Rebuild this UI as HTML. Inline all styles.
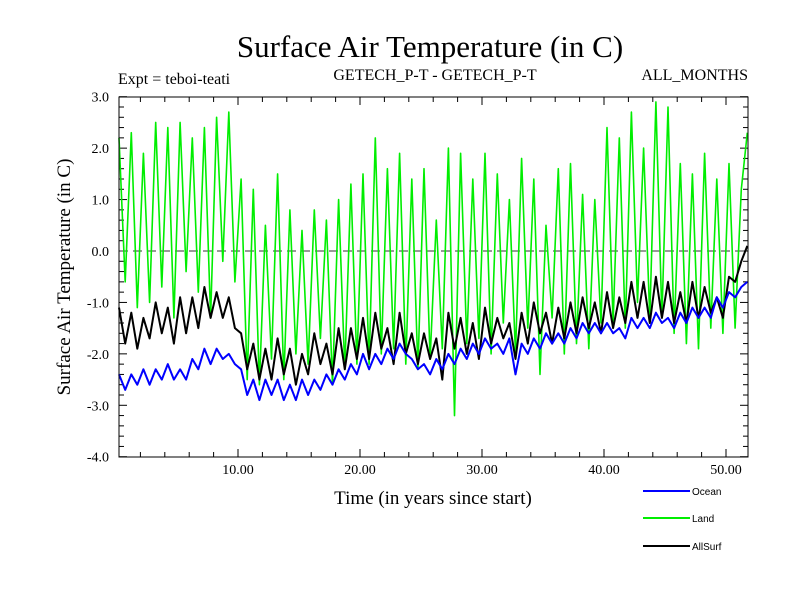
<!DOCTYPE html>
<html><head><meta charset="utf-8"><style>
body{margin:0;background:#fff}
svg text{font-family:"Liberation Serif",serif}
</style></head><body>
<svg id="c" width="800" height="600" xmlns="http://www.w3.org/2000/svg">
<text x="430" y="57" font-size="31" text-anchor="middle">Surface Air Temperature (in C)</text>
<text x="118" y="84" font-size="16">Expt = teboi-teati</text>
<text x="435" y="80" font-size="16" text-anchor="middle">GETECH_P-T - GETECH_P-T</text>
<text x="748" y="80" font-size="16" text-anchor="end">ALL_MONTHS</text>
<text transform="translate(70,277) rotate(-90)" font-size="19" text-anchor="middle">Surface Air Temperature (in C)</text>
<text x="433" y="504" font-size="19" text-anchor="middle">Time (in years since start)</text>
<g id="axes"></g>
<g id="series"></g>
<rect x="119" y="97" width="629" height="360" fill="none" stroke="#000" stroke-width="1"/>
<g>
<line x1="643" y1="491" x2="690" y2="491" stroke="#0000ff" stroke-width="2"/>
<text x="692" y="495" font-size="10" style="font-family:'Liberation Sans',sans-serif">Ocean</text>
<line x1="643" y1="518" x2="690" y2="518" stroke="#00ee00" stroke-width="2"/>
<text x="692" y="522" font-size="10" style="font-family:'Liberation Sans',sans-serif">Land</text>
<line x1="643" y1="546" x2="690" y2="546" stroke="#000" stroke-width="2"/>
<text x="692" y="550" font-size="10" style="font-family:'Liberation Sans',sans-serif">AllSurf</text>
</g>
</svg>
<script>
const yTicks=[3,2,1,0,-1,-2,-3,-4];
const yTickLabels=["3.0","2.0","1.0","0.0","-1.0","-2.0","-3.0","-4.0"];
const xTicks=[10,20,30,40,50];
const xTickLabels=["10.00","20.00","30.00","40.00","50.00"];
const tStart=0.25, tStep=0.5;
const land=[2.2,-0.6,2.3,-1.1,1.9,-1.0,2.5,-0.7,2.4,-1.3,2.5,-0.4,2.2,-0.8,2.4,-1.3,2.6,-0.2,2.7,-0.6,
1.4,-2.5,1.2,-2.6,0.5,-2.1,1.5,-2.5,0.8,-2.0,0.4,-2.2,0.8,-1.7,0.6,-2.6,1.0,-2.3,1.3,-2.2,
1.5,-2.2,2.2,-2.0,1.6,-1.9,1.9,-2.2,1.4,-2.3,1.6,-2.1,0.6,-1.9,2.0,-3.2,1.9,-1.8,1.4,-1.7,
1.9,-2.0,1.5,-1.4,1.0,-2.0,1.8,-1.5,1.4,-2.4,0.5,-1.3,1.6,-2.0,1.7,-1.8,1.1,-1.9,1.0,-1.4,
2.4,-1.4,2.2,-1.5,2.7,-1.0,2.0,-1.3,2.9,-1.3,2.8,-1.6,1.7,-1.8,1.5,-1.9,1.9,-1.5,1.4,-1.6,
1.7,-1.5,1.2,2.3];
const ocean=[-2.4,-2.7,-2.4,-2.6,-2.3,-2.6,-2.3,-2.5,-2.2,-2.5,-2.3,-2.5,-2.1,-2.3,-1.9,-2.2,-1.9,-2.1,-2.0,-2.2,
-2.3,-2.8,-2.5,-2.9,-2.5,-2.8,-2.5,-2.9,-2.6,-2.9,-2.5,-2.8,-2.5,-2.7,-2.4,-2.6,-2.3,-2.5,-2.2,-2.4,
-2.0,-2.3,-2.0,-2.2,-1.9,-2.1,-1.8,-2.0,-2.1,-2.3,-2.2,-2.4,-2.1,-2.3,-2.0,-2.2,-1.9,-2.1,-1.8,-2.0,
-1.7,-1.9,-1.8,-2.0,-1.7,-2.4,-1.8,-2.0,-1.7,-1.9,-1.6,-1.8,-1.6,-1.8,-1.5,-1.7,-1.4,-1.6,-1.4,-1.6,
-1.4,-1.6,-1.5,-1.7,-1.3,-1.5,-1.3,-1.5,-1.2,-1.4,-1.3,-1.5,-1.2,-1.4,-1.1,-1.3,-1.1,-1.3,-0.9,-1.1,
-0.8,-0.9,-0.7,-0.6];
const allsurf=[-1.1,-1.8,-1.2,-1.9,-1.3,-1.7,-1.0,-1.6,-1.1,-1.8,-0.9,-1.6,-0.9,-1.5,-0.7,-1.3,-0.8,-1.3,-0.9,-1.5,
-1.6,-2.3,-1.8,-2.5,-1.9,-2.5,-1.7,-2.4,-1.9,-2.6,-2.0,-2.4,-1.6,-2.2,-1.8,-2.4,-1.5,-2.3,-1.5,-2.1,
-1.3,-2.1,-1.2,-1.9,-1.5,-2.2,-1.2,-2.0,-1.6,-2.2,-1.6,-2.1,-1.7,-2.5,-1.2,-1.9,-1.3,-2.0,-1.4,-2.1,
-1.1,-1.8,-1.3,-1.7,-1.4,-2.1,-1.2,-1.8,-1.0,-1.6,-1.2,-1.8,-1.1,-1.7,-1.0,-1.6,-0.9,-1.5,-1.0,-1.6,
-0.8,-1.5,-0.9,-1.4,-0.6,-1.3,-0.6,-1.4,-0.5,-1.3,-0.6,-1.4,-0.8,-1.4,-0.6,-1.3,-0.7,-1.2,-0.9,-1.3,
-0.5,-0.6,-0.2,0.1];
const NS="http://www.w3.org/2000/svg";
function X(t){return 116+t*12.2;}
function Y(v){return 251-v*51.43;}
const axes=document.getElementById('axes');
function mk(tag,attrs,parent){const e=document.createElementNS(NS,tag);for(const k in attrs)e.setAttribute(k,attrs[k]);parent.appendChild(e);return e;}
for(let v=-4;v<=3.001;v+=0.2){
  const y=Y(v);const major=Math.abs(v-Math.round(v))<0.01;const L=major?8:5;
  const a=mk('line',{x1:119,y1:y,x2:119+L,y2:y,stroke:'#000'},axes);
  
  
  const b=mk('line',{x1:748,y1:y,x2:748-L,y2:y,stroke:'#000'},axes);
  
  
}
yTicks.forEach((v,i)=>{
  const t=mk('text',{x:109,y:Y(v)+5,'font-size':14,'text-anchor':'end'},axes);
  t.textContent=yTickLabels[i];
  
  
});
for(let t=2;t<=50;t+=2){
  const x=X(t);const L=(t%10===0)?8:5;
  const a=mk('line',{x1:x,y1:457,x2:x,y2:457-L,stroke:'#000'},axes);
  
  
  const b=mk('line',{x1:x,y1:97,x2:x,y2:97+L,stroke:'#000'},axes);
  
  
}
xTicks.forEach((v,i)=>{
  const t=mk('text',{x:X(v),y:474,'font-size':14,'text-anchor':'middle'},axes);
  t.textContent=xTickLabels[i];
  
  
});
const z=mk('line',{x1:119,y1:Y(0),x2:748,y2:Y(0),stroke:'#333','stroke-dasharray':'9,5','stroke-width':1},axes);


const sg=document.getElementById('series');
function draw(arr,color,w,name){
  const pts=arr.map((v,i)=>X(tStart+i*tStep).toFixed(1)+','+Y(v).toFixed(1)).join(' ');
  const p=mk('polyline',{points:pts,fill:'none',stroke:color,'stroke-width':w,'stroke-linejoin':'round'},sg);
  
  
}
draw(land,'#00ee00',1.6,'land-line');
draw(allsurf,'#000000',2,'allsurf-line');
draw(ocean,'#0000ff',2,'ocean-line');
</script>
</body></html>
